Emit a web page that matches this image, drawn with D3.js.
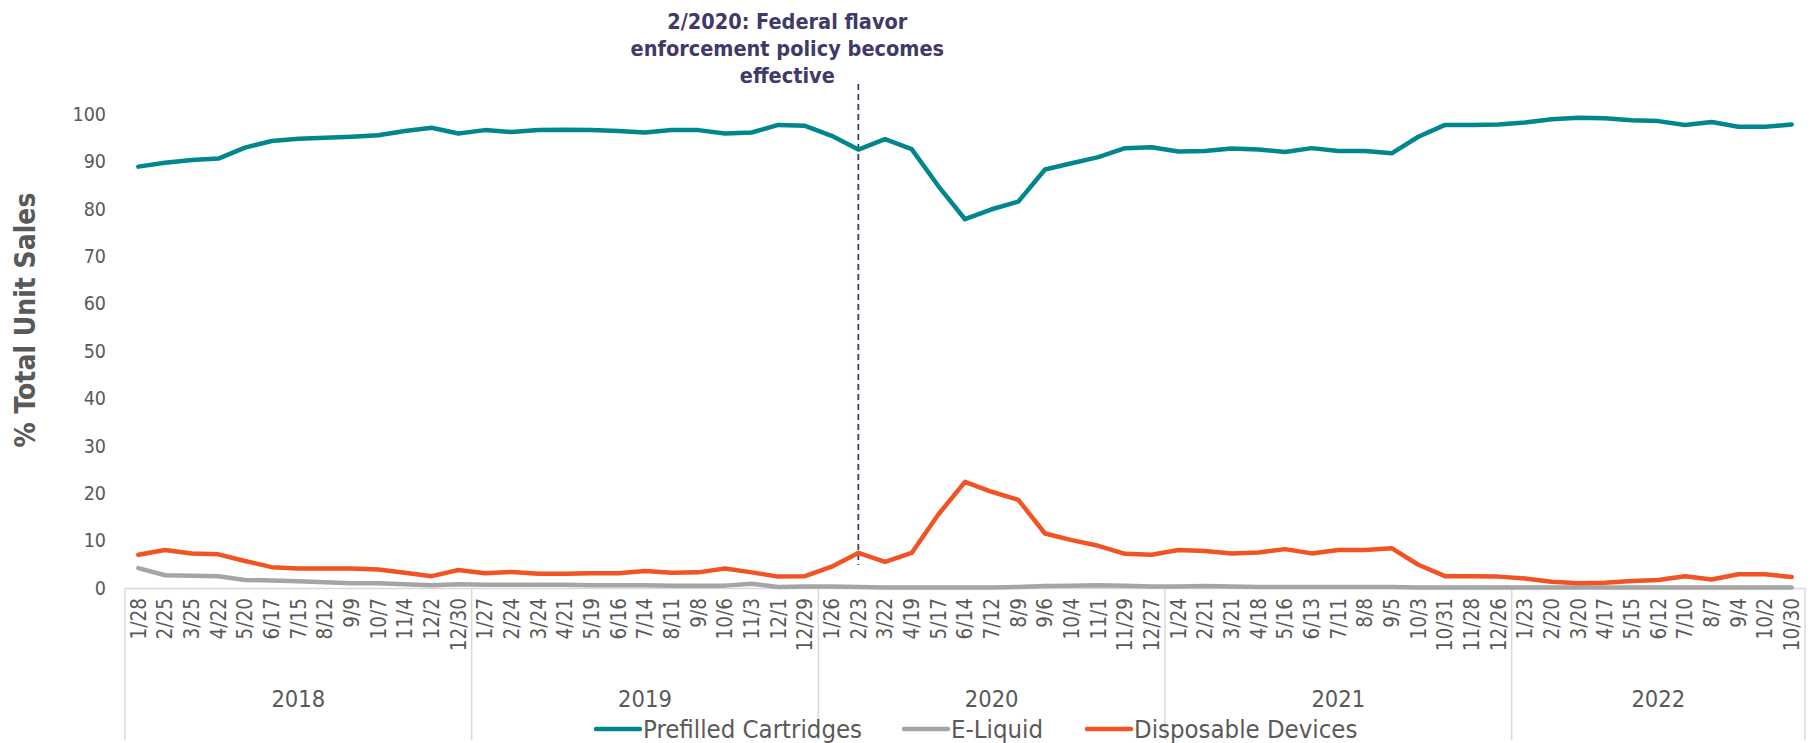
<!DOCTYPE html>
<html>
<head>
<meta charset="utf-8">
<script src="https://cdn.jsdelivr.net/npm/d3@7"></script>
<style>
  html, body { margin: 0; padding: 0; background: #ffffff; }
  svg { display: block; }
  text { font-family: "DejaVu Sans Condensed", "DejaVu Sans", sans-serif; font-stretch: condensed; }
</style>
</head>
<body>
<svg id="chart" width="1811" height="743"></svg>
<script>
// Four-week reporting periods (week ending), grouped by year
const years = ["2018", "2019", "2020", "2021", "2022"];
const periods2018 = ["1/28","2/25","3/25","4/22","5/20","6/17","7/15","8/12","9/9","10/7","11/4","12/2","12/30"];
const periods2019 = ["1/27","2/24","3/24","4/21","5/19","6/16","7/14","8/11","9/8","10/6","11/3","12/1","12/29"];
const periods2020 = ["1/26","2/23","3/22","4/19","5/17","6/14","7/12","8/9","9/6","10/4","11/1","11/29","12/27"];
const periods2021 = ["1/24","2/21","3/21","4/18","5/16","6/13","7/11","8/8","9/5","10/3","10/31","11/28","12/26"];
const periods2022 = ["1/23","2/20","3/20","4/17","5/15","6/12","7/10","8/7","9/4","10/2","10/30"];
const periodsByYear = [periods2018, periods2019, periods2020, periods2021, periods2022];

// Share of total unit sales (%)
const prefilledCartridges = [
  88.9, 89.7, 90.3, 90.6, 92.9, 94.3, 94.8, 95.0, 95.2, 95.5, 96.4, 97.1, 95.9,
  96.6, 96.2, 96.6, 96.7, 96.6, 96.4, 96.1, 96.6, 96.6, 95.9, 96.1, 97.7, 97.5,
  95.4, 92.5, 94.7, 92.6, 84.8, 77.8, 79.9, 81.5, 88.3, 89.6, 90.9, 92.8, 93.0,
  92.1, 92.2, 92.7, 92.5, 92.0, 92.8, 92.2, 92.2, 91.7, 95.2, 97.7, 97.7, 97.8,
  98.2, 98.9, 99.2, 99.1, 98.7, 98.5, 97.7, 98.3, 97.3, 97.3, 97.8
];
const eLiquid = [
  4.2, 2.7, 2.6, 2.5, 1.7, 1.6, 1.4, 1.2, 1.0, 1.0, 0.8, 0.6, 0.8,
  0.7, 0.7, 0.7, 0.7, 0.6, 0.6, 0.6, 0.5, 0.5, 0.5, 0.9, 0.2, 0.3,
  0.3, 0.2, 0.1, 0.1, 0.1, 0.1, 0.1, 0.2, 0.4, 0.5, 0.6, 0.5, 0.3,
  0.3, 0.4, 0.3, 0.2, 0.2, 0.2, 0.2, 0.2, 0.2, 0.1, 0.1, 0.1, 0.1,
  0.1, 0.1, 0.1, 0.1, 0.1, 0.1, 0.1, 0.1, 0.1, 0.1, 0.1
];
const disposableDevices = [
  7.0, 8.0, 7.3, 7.1, 5.7, 4.4, 4.1, 4.1, 4.1, 3.9, 3.2, 2.5, 3.8,
  3.1, 3.4, 3.0, 3.0, 3.1, 3.1, 3.6, 3.2, 3.3, 4.1, 3.3, 2.4, 2.5,
  4.5, 7.4, 5.5, 7.4, 15.5, 22.4, 20.3, 18.6, 11.5, 10.1, 8.9, 7.2, 7.0,
  8.0, 7.8, 7.3, 7.5, 8.2, 7.3, 8.0, 8.0, 8.4, 4.9, 2.5, 2.5, 2.4,
  2.0, 1.3, 1.0, 1.1, 1.5, 1.7, 2.5, 1.8, 2.9, 2.9, 2.3
];

const yTicks = [0, 10, 20, 30, 40, 50, 60, 70, 80, 90, 100];
const seriesNames = ["Prefilled Cartridges", "E-Liquid", "Disposable Devices"];
const seriesColors = ["#00878E", "#A5A5A5", "#F15323"];
const policyPeriod = { year: "2020", period: "2/23" };
const policyNote = ["2/2020: Federal flavor", "enforcement policy becomes", "effective"];

// Flatten periods into unique keys (year|period)
const rows = [];
years.forEach((yr, i) => periodsByYear[i].forEach(p => rows.push({ key: yr + "|" + p, year: yr, label: p })));
const series = [prefilledCartridges, eLiquid, disposableDevices];

const svg = d3.select("#chart");
const plotLeft = 125, plotRight = 1805, plotTop = 114, plotBottom = 588;

const x = d3.scaleBand().domain(rows.map(r => r.key)).range([plotLeft, plotRight]).padding(0);
const y = d3.scaleLinear().domain([0, 100]).range([plotBottom, plotTop]);
const xc = k => x(k) + x.bandwidth() / 2;

const tickColor = "#595959";
const frameColor = "#D9D9D9";
const noteColor = "#3F3A6A";

// Y axis: labels only
const yAxis = svg.append("g")
  .attr("transform", `translate(${plotLeft - 19},0)`)
  .call(d3.axisLeft(y).tickValues(yTicks).tickSize(0).tickPadding(0));
yAxis.select(".domain").remove();
yAxis.selectAll("text")
  .attr("fill", tickColor)
  .style("font-size", "19.5px");

// Y axis title
svg.append("text")
  .attr("transform", "translate(35,320) rotate(-90)")
  .attr("text-anchor", "middle")
  .attr("fill", tickColor)
  .style("font-size", "28px")
  .style("font-weight", "bold")
  .text("% Total Unit Sales");

// X axis baseline and period labels
const xAxis = svg.append("g")
  .attr("transform", `translate(0,${plotBottom})`)
  .call(d3.axisBottom(x).tickSize(0).tickFormat(k => rows.find(r => r.key === k).label));
xAxis.select(".domain").attr("stroke", frameColor).attr("stroke-width", 1.5);
xAxis.selectAll("text")
  .attr("fill", tickColor)
  .style("font-size", "20.5px")
  .attr("text-anchor", "end")
  .attr("transform", "rotate(-90)")
  .attr("x", -10)
  .attr("y", 0)
  .attr("dy", "0.35em");

// Year group separators and labels
const groupBottom = 740;
const boundaries = [];
years.forEach((yr, i) => {
  const keys = periodsByYear[i].map(p => yr + "|" + p);
  const x0 = x(keys[0]);
  const x1 = x(keys[keys.length - 1]) + x.bandwidth();
  boundaries.push(x0);
  if (i === years.length - 1) boundaries.push(x1);
  svg.append("text")
    .attr("x", (x0 + x1) / 2)
    .attr("y", 699)
    .attr("dy", "0.35em")
    .attr("text-anchor", "middle")
    .attr("fill", tickColor)
    .style("font-size", "23.5px")
    .text(yr);
});
svg.append("g").selectAll("line")
  .data(boundaries)
  .join("line")
  .attr("x1", d => d).attr("x2", d => d)
  .attr("y1", plotBottom).attr("y2", groupBottom)
  .attr("stroke", frameColor)
  .attr("stroke-width", 1.5);

// Policy marker
const policyKey = policyPeriod.year + "|" + policyPeriod.period;
svg.append("line")
  .attr("x1", xc(policyKey)).attr("x2", xc(policyKey))
  .attr("y1", 84).attr("y2", y(disposableDevices[rows.findIndex(r => r.key === policyKey)]) + 12)
  .attr("stroke", noteColor)
  .attr("stroke-width", 1.8)
  .attr("stroke-dasharray", "6,4");

svg.append("g").selectAll("text")
  .data(policyNote)
  .join("text")
  .attr("x", xc(policyKey) - 71)
  .attr("y", (d, i) => 21 + i * 27)
  .attr("dy", "0.35em")
  .attr("text-anchor", "middle")
  .attr("fill", noteColor)
  .style("font-size", "21.5px")
  .style("font-weight", "bold")
  .text(d => d);

// Series lines
const line = d3.line()
  .x((d, i) => xc(rows[i].key))
  .y(d => y(d));

svg.append("g").selectAll("path")
  .data(series)
  .join("path")
  .attr("d", d => line(d))
  .attr("fill", "none")
  .attr("stroke", (d, i) => seriesColors[i])
  .attr("stroke-width", 4.5)
  .attr("stroke-linejoin", "round")
  .attr("stroke-linecap", "round");

// Legend
const legendX = [596, 904, 1087];
const legendY = 729;
const legend = svg.append("g");
seriesNames.forEach((name, i) => {
  legend.append("line")
    .attr("x1", legendX[i]).attr("x2", legendX[i] + 44)
    .attr("y1", legendY).attr("y2", legendY)
    .attr("stroke", seriesColors[i])
    .attr("stroke-width", 4.5)
    .attr("stroke-linecap", "round");
  legend.append("text")
    .attr("x", legendX[i] + 47)
    .attr("y", legendY)
    .attr("dy", "0.35em")
    .attr("fill", tickColor)
    .style("font-size", "25.5px")
    .text(name);
});
</script>
</body>
</html>
